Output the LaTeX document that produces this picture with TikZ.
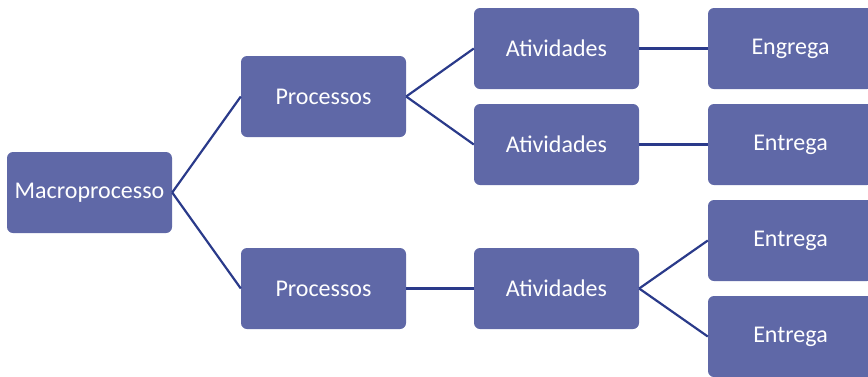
\documentclass[tikz,border=0pt]{standalone}
\usepackage{fontspec}
\setmainfont{Carlito}
\definecolor{boxfill}{HTML}{5F68A7}
\definecolor{linkline}{HTML}{2A3A8A}
\begin{document}
\begin{tikzpicture}[x=1pt,y=-1pt,
		    caixa/.style={rectangle,rounded corners=6pt,fill=boxfill,text=white,minimum width=165pt,minimum height=81pt,inner sep=0pt,font=\fontsize{24}{28}\selectfont},
		    ligacao/.style={draw=linkline,line width=2.2pt}]
		    \useasboundingbox (0,0) rectangle (868,376);
		    \node[caixa](macro) at (89.5,192.5){Macroprocesso};
		    \node[caixa](procA) at (323.5,96.5){Processos};
		    \node[caixa](procB) at (323.5,288.5){Processos};
		    \node[caixa](ativA) at (556.5,48.5){Atividades};
		    \node[caixa](ativB) at (556.5,144.5){Atividades};
		    \node[caixa](ativC) at (556.5,288.5){Atividades};
		    \node[caixa](entA) at (790.5,48.5){Engrega};
		    \node[caixa](entB) at (790.5,144.5){Entrega};
		    \node[caixa](entC) at (790.5,240.5){Entrega};
		    \node[caixa](entD) at (790.5,336.5){Entrega};
		    \draw[ligacao](macro.east)--(procA.west);
		    \draw[ligacao](macro.east)--(procB.west);
		    \draw[ligacao](procA.east)--(ativA.west);
		    \draw[ligacao](procA.east)--(ativB.west);
		    \draw[ligacao](procB.east)--(ativC.west);
		    \draw[ligacao](ativA.east)--(entA.west);
		    \draw[ligacao](ativB.east)--(entB.west);
		    \draw[ligacao](ativC.east)--(entC.west);
		    \draw[ligacao](ativC.east)--(entD.west);
		\end{tikzpicture}
\end{document}
